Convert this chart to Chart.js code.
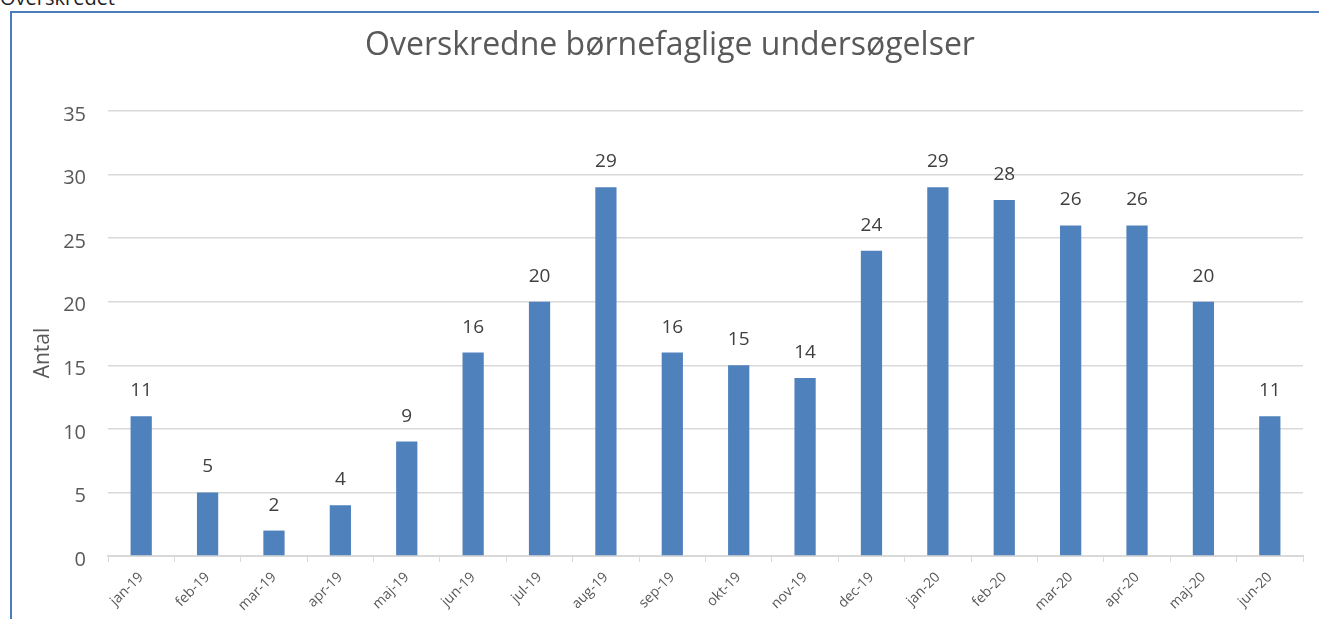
<!DOCTYPE html>
<html>
<head>
<meta charset="utf-8">
<script src="https://cdn.jsdelivr.net/npm/chart.js@4"></script>
<style>
  html, body { margin: 0; padding: 0; background: #fff; width: 1319px; height: 619px; overflow: hidden; }
  #cap { position: absolute; left: 0; top: -16px; font-family: "Open Sans", "Noto Sans", sans-serif; font-size: 20px; color: #222; }
  #frame { position: absolute; left: 10px; top: 11px; width: 1400px; height: 700px; border: 2px solid #4a7ebb; box-sizing: border-box; }
  #wrap { position: absolute; left: 0; top: 0; width: 1319px; height: 619px; }
</style>
</head>
<body>
<div id="cap">Overskredet</div>
<div id="frame"></div>
<div id="wrap"><canvas id="c" width="1319" height="619"></canvas></div>
<script>
const categories = ["jan-19","feb-19","mar-19","apr-19","maj-19","jun-19","jul-19","aug-19","sep-19","okt-19","nov-19","dec-19","jan-20","feb-20","mar-20","apr-20","maj-20","jun-20"];
const values = [11,5,2,4,9,16,20,29,16,15,14,24,29,28,26,26,20,11];
const titleText = "Overskredne børnefaglige undersøgelser";
const yTitle = "Antal";

const FONT = "'Open Sans', 'Noto Sans', sans-serif";

const valueLabels = {
  id: 'valueLabels',
  afterDatasetsDraw(chart) {
    const ctx = chart.ctx;
    const meta = chart.getDatasetMeta(0);
    ctx.save();
    ctx.font = "19px " + FONT;
    ctx.fillStyle = "#404040";
    ctx.textAlign = "center";
    ctx.textBaseline = "alphabetic";
    meta.data.forEach((bar, i) => {
      ctx.fillText(String(values[i]), bar.x, bar.y - 20);
    });
    ctx.restore();
  }
};

const texts = {
  id: 'texts',
  afterDraw(chart) {
    const ctx = chart.ctx;
    ctx.save();
    ctx.font = "32px " + FONT;
    ctx.fillStyle = "#595959";
    ctx.textAlign = "center";
    ctx.textBaseline = "middle";
    ctx.fillText(titleText, 670, 46);
    ctx.translate(43, 353);
    ctx.rotate(-Math.PI / 2);
    ctx.font = "21px " + FONT;
    ctx.fillText(yTitle, 0, 0);
    ctx.restore();
  }
};

new Chart(document.getElementById('c'), {
  type: 'bar',
  data: {
    labels: categories,
    datasets: [{
      data: values,
      backgroundColor: '#4f81bd',
      barPercentage: 0.32,
      categoryPercentage: 1.0
    }]
  },
  options: {
    responsive: false,
    animation: false,
    devicePixelRatio: 1,
    layout: { padding: { left: 0, right: 16, top: 111, bottom: 0 } },
    plugins: {
      legend: { display: false },
      tooltip: { enabled: false },
      title: { display: false }
    },
    scales: {
      x: {
        grid: { display: true, drawOnChartArea: false, offset: true, color: '#d9d9d9', tickLength: 6, drawTicks: true },
        border: { display: true, color: '#d9d9d9', width: 2 },
        ticks: { color: '#595959', font: { family: FONT, size: 14 }, minRotation: 45, maxRotation: 45, autoSkip: false, padding: 7 },
        afterFit(scale) { scale.height = 63; }
      },
      y: {
        min: 0, max: 35,
        ticks: { stepSize: 5, color: '#595959', font: { family: FONT, size: 20 }, padding: 22, labelOffset: 4 },
        grid: { color: '#d9d9d9', drawTicks: false, lineWidth: 1.5 },
        border: { display: false },
        afterFit(scale) { scale.width = 108; }
      }
    }
  },
  plugins: [valueLabels, texts]
});
</script>
</body>
</html>
